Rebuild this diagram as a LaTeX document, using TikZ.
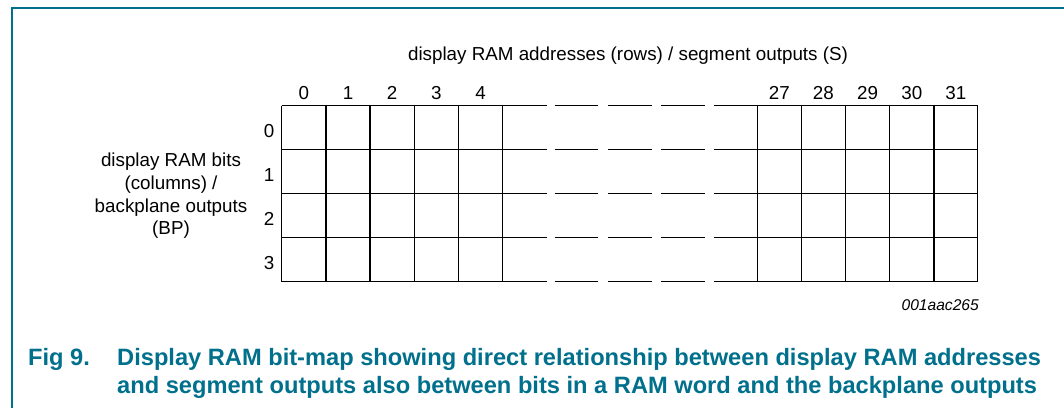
\documentclass[tikz,border=0pt]{standalone}
\usepackage{fontspec}
\setmainfont{Liberation Sans}
\definecolor{nxpteal}{RGB}{0,112,140}
\begin{document}
\begin{tikzpicture}[x=1pt,y=-1pt,
  gridline/.style={line width=1.4pt, black},
  lbl/.style={font=\fontsize{18.8}{22.7}\selectfont, inner sep=0pt},
  captext/.style={font=\fontsize{23.65}{28}\selectfont\bfseries, text=nxpteal, inner sep=0pt}]
\useasboundingbox (0,0) rectangle (1064,408);
\fill[white] (0,0) rectangle (1064,408);
% frame
\draw[nxpteal, line width=1.6pt] (1064,8) -- (11.7,8) -- (11.7,408);
% vertical grid lines
\foreach \x in {281.7,325.9,370.1,414.3,458.5,502.7,757.3,801.3,845.5,889.7,933.9,977.7}
  \draw[gridline] (\x,105.7) -- (\x,281.7);
% horizontal grid lines with gaps
\foreach \y in {105.7,149.7,193.7,237.7,281.7} {
  \draw[gridline] (281.7,\y) -- (546.5,\y);
  \draw[gridline] (554.7,\y) -- (598.3,\y);
  \draw[gridline] (608,\y) -- (651.7,\y);
  \draw[gridline] (661,\y) -- (705,\y);
  \draw[gridline] (714,\y) -- (977.7,\y);
}
% column labels
\foreach \n/\x in {0/303.8,1/348,2/392.2,3/436.4,4/480.6,27/779.3,28/823.4,29/867.6,30/911.8,31/955.8}
  \node[lbl] (c\n) at (\x,93) {\n};
% row labels
\foreach \r/\y in {0/127.7,1/171.7,2/215.7,3/259.7}
  \node[lbl] (r\r) at (269,\y+3) {\r};
% titles
\node[lbl, anchor=base] (title) at (628,60) {display RAM addresses (rows) / segment outputs (S)};
\node[lbl, align=center] (bits) at (171,196) {display RAM bits\\(columns) /\\backplane outputs\\(BP)};
\node[font=\fontsize{15.6}{18}\selectfont\itshape, anchor=base east, inner sep=0pt] (code) at (979,310.7) {001aac265};
% caption
\node[captext, anchor=base west] (fig) at (28,365) {Fig 9.};
\node[captext, anchor=base west] (cap1) at (117,365) {Display RAM bit-map showing direct relationship between display RAM addresses};
\node[captext, anchor=base west] (cap2) at (117,393) {and segment outputs also between bits in a RAM word and the backplane outputs};
\end{tikzpicture}
\end{document}
